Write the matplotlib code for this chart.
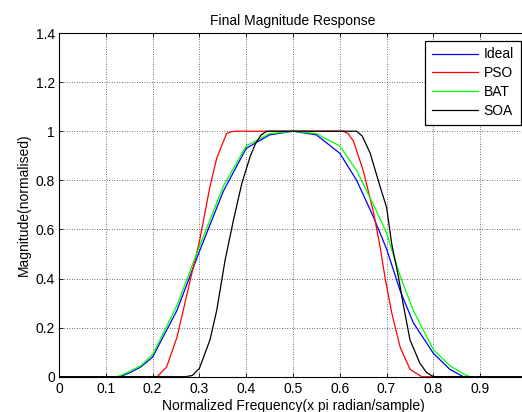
import matplotlib.pyplot as plt

# curves (normalised frequency, magnitude)
x_ideal = [0, 0.13, 0.15, 0.175, 0.2, 0.252, 0.3, 0.351, 0.4, 0.45, 0.5, 0.55,
           0.6, 0.636, 0.672, 0.7, 0.729, 0.757, 0.8, 0.835, 0.864, 1.0]
y_ideal = [0, 0, 0.015, 0.04, 0.08, 0.27, 0.51, 0.755, 0.93, 0.985, 1.0, 0.985,
           0.91, 0.80, 0.65, 0.52, 0.35, 0.22, 0.095, 0.03, 0, 0]

x_pso = [0, 0.21, 0.23, 0.252, 0.2855, 0.3, 0.3226, 0.337, 0.358, 0.368, 0.38,
         0.5, 0.607, 0.618, 0.629, 0.65, 0.672, 0.686, 0.697, 0.711, 0.729,
         0.75, 0.775, 1.0]
y_pso = [0, 0, 0.04, 0.16, 0.435, 0.55, 0.775, 0.89, 0.99, 0.998, 1.0,
         1.0, 1.0, 0.99, 0.96, 0.84, 0.67, 0.53, 0.40, 0.26, 0.12,
         0.03, 0, 0]

x_bat = [0, 0.125, 0.15, 0.175, 0.2, 0.252, 0.3, 0.351, 0.4, 0.45, 0.5, 0.55,
         0.6, 0.636, 0.672, 0.7, 0.729, 0.757, 0.8, 0.835, 0.87, 0.88, 1.0]
y_bat = [0, 0, 0.02, 0.045, 0.09, 0.29, 0.53, 0.775, 0.94, 0.99, 1.0, 0.99,
         0.94, 0.84, 0.70, 0.585, 0.41, 0.27, 0.11, 0.045, 0.005, 0, 0]

x_soa = [0, 0.27, 0.285, 0.3, 0.3226, 0.337, 0.355, 0.373, 0.391, 0.409, 0.42,
         0.432, 0.444, 0.5, 0.636, 0.648, 0.665, 0.686, 0.7, 0.711, 0.725,
         0.735, 0.75, 0.771, 0.785, 0.8, 1.0]
y_soa = [0, 0, 0.005, 0.034, 0.15, 0.27, 0.476, 0.64, 0.79, 0.9, 0.95,
         0.985, 1.0, 1.0, 1.0, 0.98, 0.91, 0.775, 0.69, 0.54, 0.41,
         0.30, 0.15, 0.055, 0.018, 0, 0]

xticks = [0, 0.1, 0.2, 0.3, 0.4, 0.5, 0.6, 0.7, 0.8, 0.9]
xticklabels = ['0', '0.1', '0.2', '0.3', '0.4', '0.5', '0.6', '0.7', '0.8', '0.9']
yticks = [0, 0.2, 0.4, 0.6, 0.8, 1.0, 1.2, 1.4]
yticklabels = ['0', '0.2', '0.4', '0.6', '0.8', '1', '1.2', '1.4']

plt.rcParams['font.family'] = ['Liberation Sans', 'DejaVu Sans']
plt.rcParams['font.size'] = 10

fig = plt.figure(figsize=(5.22, 4.12), dpi=100)
ax = fig.add_axes([59 / 522, 35.3 / 412, 468 / 522, 343.7 / 412])

ax.plot(x_ideal, y_ideal, color='b', lw=0.9, label='Ideal')
ax.plot(x_pso, y_pso, color='r', lw=0.9, label='PSO')
ax.plot(x_bat, y_bat, color=(0, 1, 0), lw=0.9, label='BAT')
ax.plot(x_soa, y_soa, color='k', lw=0.9, label='SOA')

ax.set_xlim(0, 1)
ax.set_ylim(0, 1.4)
ax.set_xticks(xticks)
ax.set_xticklabels(xticklabels)
ax.set_yticks(yticks)
ax.set_yticklabels(yticklabels)
ax.tick_params(direction='in', top=True, right=True, length=3, width=0.6, pad=3)
ax.tick_params(axis='x', pad=4)
ax.grid(True, color='0.25', linestyle=(0, (1, 2)), linewidth=0.6)
for s in ax.spines.values():
    s.set_linewidth(0.8)

ax.set_title('Final Magnitude Response', fontsize=10, pad=6)
ax.set_xlabel('Normalized Frequency(x pi radian/sample)', labelpad=2)
ax.set_ylabel('Magnitude(normalised)', labelpad=3)

leg = ax.legend(loc='upper right', bbox_to_anchor=(521 / 522, (412 - 40.5) / 412),
                bbox_transform=fig.transFigure, fancybox=False, framealpha=1,
                edgecolor='k', handlelength=3.3, handletextpad=0.4,
                borderaxespad=0, borderpad=0.5, labelspacing=0.35, fontsize=10)
leg.get_frame().set_linewidth(0.9)

fig.savefig('out.png', dpi=100)
